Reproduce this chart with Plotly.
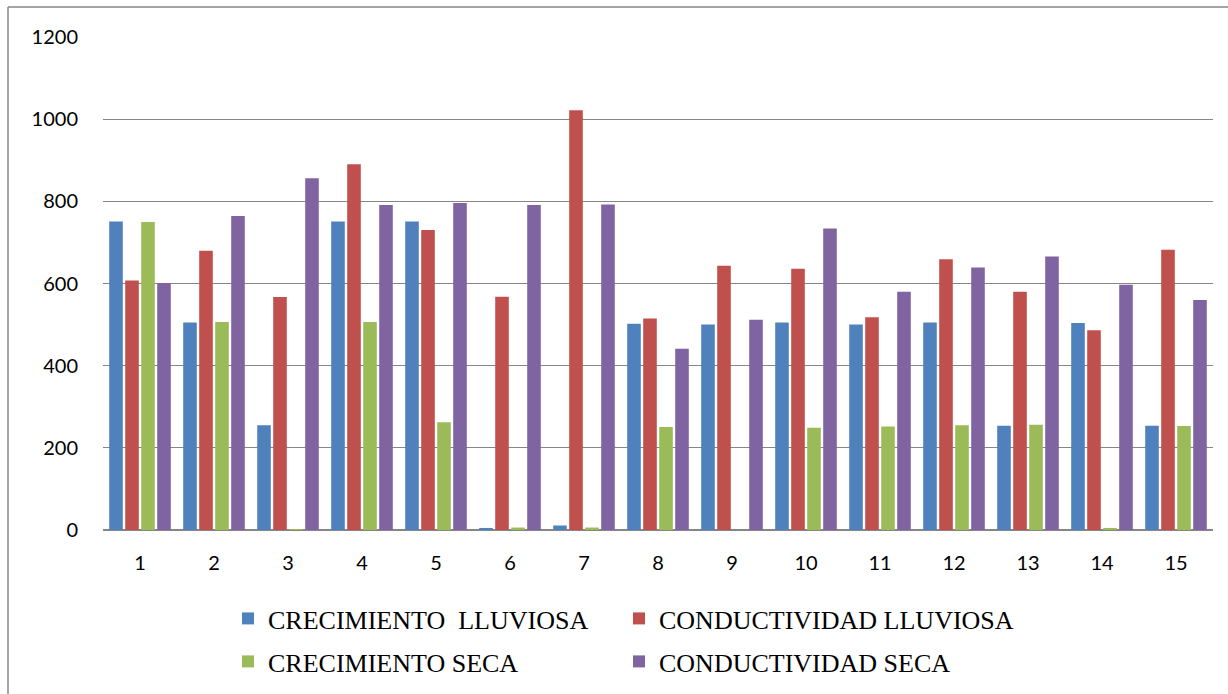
import plotly.graph_objects as go

categories = [str(i) for i in range(1, 16)]
crecimiento_lluviosa = [751, 505, 255, 751, 751, 5, 11, 502, 500, 505, 500, 505, 254, 504, 254]
conductividad_lluviosa = [607, 680, 567, 890, 730, 568, 1022, 515, 643, 636, 518, 659, 580, 486, 682]
crecimiento_seca = [750, 506, 2, 506, 262, 6, 6, 251, 0, 249, 252, 255, 256, 5, 253]
conductividad_seca = [601, 764, 856, 791, 796, 791, 792, 441, 512, 734, 580, 639, 666, 597, 560]

names = ["CRECIMIENTO  LLUVIOSA", "CONDUCTIVIDAD LLUVIOSA", "CRECIMIENTO SECA", "CONDUCTIVIDAD SECA"]
series = [crecimiento_lluviosa, conductividad_lluviosa, crecimiento_seca, conductividad_seca]
colors = ["#4F81BD", "#C0504D", "#9BBB59", "#8064A2"]
legends = ["legend", "legend2", "legend3", "legend4"]

fig = go.Figure()
for n, s, c, lg in zip(names, series, colors, legends):
    fig.add_trace(go.Bar(x=categories, y=s, name=n, marker=dict(color=c, line=dict(width=0)),
                         legend=lg, showlegend=True))

W, H = 1228, 694
L, R, T, B = 103, 15, 37, 164
pw, ph = W - L - R, H - T - B

def px_x(p):
    return (p - L) / pw

def px_y(p):
    return (H - B - p) / ph

leg_font = dict(family="Liberation Serif", size=26, color="black")

def leg(xp, yp):
    return dict(orientation="h", xref="container", yref="container",
                x=xp / W, y=1 - yp / H, xanchor="left", yanchor="top",
                font=leg_font, bgcolor="rgba(0,0,0,0)", visible=True)

fig.update_layout(
    width=W, height=H,
    margin=dict(l=L, r=R, t=T, b=B, autoexpand=False),
    paper_bgcolor="white", plot_bgcolor="white",
    showlegend=True,
    barmode="group", bargap=0.135, bargroupgap=0.15,
    font=dict(family="Lato", size=20, color="black"),
    xaxis=dict(showgrid=False, showline=False, ticks="", tickfont=dict(size=20),
               ticklabelstandoff=19, automargin=False),
    yaxis=dict(range=[0, 1200], dtick=200, showgrid=True, gridcolor="#868686", gridwidth=1.3,
               zeroline=True, zerolinecolor="#868686", zerolinewidth=1.5, showline=False,
               ticks="", tickfont=dict(size=20), ticklabelstandoff=24, automargin=False),
    legend=leg(228, 595),
    legend2=leg(619, 595),
    legend3=leg(228, 638),
    legend4=leg(619, 638),
    shapes=[
        dict(type="line", xref="paper", yref="paper",
             x0=px_x(8), x1=px_x(1228), y0=px_y(7), y1=px_y(7),
             line=dict(color="#868686", width=1.5), layer="below"),
        dict(type="line", xref="paper", yref="paper",
             x0=px_x(8), x1=px_x(8), y0=px_y(7), y1=px_y(694),
             line=dict(color="#868686", width=1.5), layer="below"),
    ],
)

fig.write_html("out.html", config={"displayModeBar": False},
               post_script="document.body.style.margin='0';document.body.style.padding='0';")
